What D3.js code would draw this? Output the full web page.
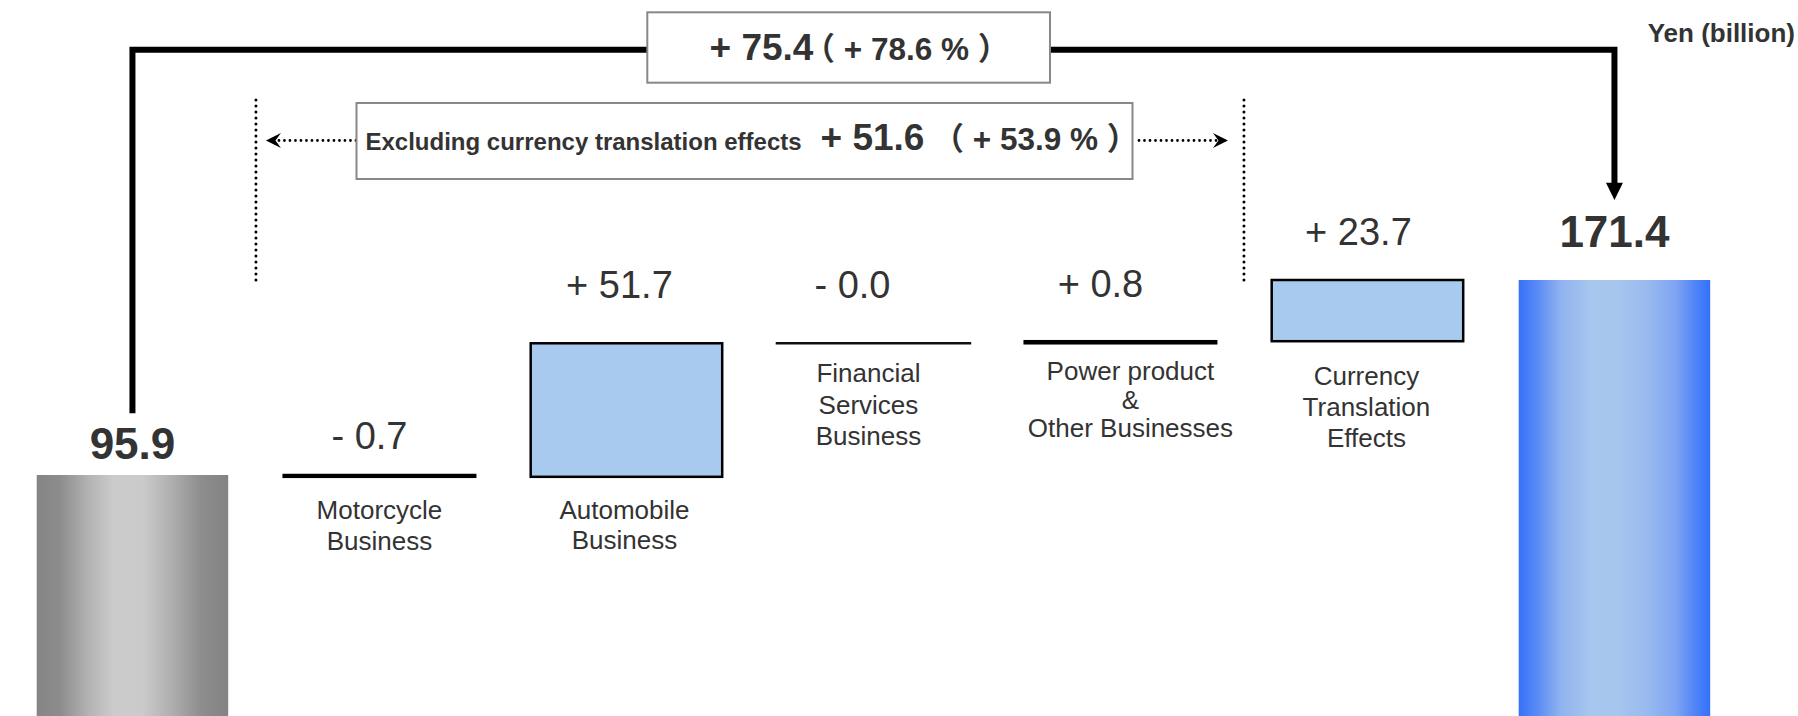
<!DOCTYPE html>
<html>
<head>
<meta charset="utf-8">
<script src="https://cdn.jsdelivr.net/npm/d3@7"></script>
<style>
  html, body { margin: 0; padding: 0; background: #fff; }
  svg { display: block; }
  text { font-family: "Liberation Sans", Arial, "Noto Sans CJK JP", sans-serif; fill: #333; }
</style>
</head>
<body>
<svg id="chart" width="1798" height="716"></svg>
<script>
// ---------------- data ----------------
const steps = ["start", "motorcycle", "automobile", "financial", "power", "currency", "end"];
const categoryLines = [
  [],
  ["Motorcycle", "Business"],
  ["Automobile", "Business"],
  ["Financial", "Services", "Business"],
  ["Power product", "&", "Other Businesses"],
  ["Currency", "Translation", "Effects"],
  []
];
const startValue = 95.9;
const endValue = 171.4;
const deltas = [-0.7, 51.7, -0.0, 0.8, 23.7];
const deltaLabels = ["- 0.7", "+ 51.7", "- 0.0", "+ 0.8", "+ 23.7"];
const totalLabels = ["95.9", "171.4"];
const totalChangeLabel = "+ 75.4";
const totalChangePct = "（ + 78.6 % ）";
const exCurrencyText = "Excluding currency translation effects";
const exCurrencyLabel = "+ 51.6";
const exCurrencyPct = "（ + 53.9 % ）";
const unitLabel = "Yen (billion)";

// ---------------- layout (not data) ----------------
const W = 1798, H = 716;
const deltaLabelDx = [-10, -7, -21, -20, -9];
const deltaLabelGap = [25.7, 45, 45, 44, 35];
const catLabelDx = [0, 0, -2, -5, 10, -1, 0];
const catLabelGap = [0, 42.5, 42.6, 38.7, 36.7, 43.8, 0];
const catLineH = [0, 30.5, 29.5, 31.7, 28.7, 31, 0];
const totalGap = [15.7, 33.3];

const svg = d3.select("#chart");
const defs = svg.append("defs");

const gray = defs.append("linearGradient").attr("id", "gGray").attr("x1", "0").attr("x2", "1").attr("y1", "0").attr("y2", "0");
[[0, "#858585"], [0.12, "#8c8c8c"], [0.27, "#b3b3b3"], [0.4, "#cbcbcb"], [0.55, "#cbcbcb"], [0.7, "#b0b0b0"], [0.86, "#8d8d8d"], [1, "#838383"]]
  .forEach(([o, c]) => gray.append("stop").attr("offset", o).attr("stop-color", c));
const blue = defs.append("linearGradient").attr("id", "gBlue").attr("x1", "0").attr("x2", "1").attr("y1", "0").attr("y2", "0");
[[0, "#3672f8"], [0.1, "#5a8bf5"], [0.22, "#90b3ef"], [0.38, "#a7c7ee"], [0.52, "#a6c6ef"], [0.68, "#97b9ef"], [0.82, "#7ea4f2"], [0.93, "#4c82f8"], [1, "#3371fb"]]
  .forEach(([o, c]) => blue.append("stop").attr("offset", o).attr("stop-color", c));

// ---------------- scales ----------------
const x = d3.scaleBand().domain(steps).range([36.7, 1710.2]).paddingInner(0.2247).paddingOuter(0);
const y = d3.scaleLinear().domain([0, endValue]).range([722.7, 280]);

// waterfall records
let cum = startValue;
const recs = [{ key: steps[0], lo: 0, hi: startValue, type: "start" }];
deltas.forEach((d, i) => {
  const a = cum, b = cum + d;
  recs.push({ key: steps[i + 1], lo: Math.min(a, b), hi: Math.max(a, b), type: "delta", i });
  cum = b;
});
recs.push({ key: steps[6], lo: 0, hi: endValue, type: "end" });

// ---------------- bracket ----------------
const cxStart = x(steps[0]) + x.bandwidth() / 2;
const cxEnd = x(steps[6]) + x.bandwidth() / 2;
const bracketY = 49.7;
svg.append("path")
  .attr("d", `M${cxStart},${413.3} V${bracketY} H${cxEnd} V${186}`)
  .attr("fill", "none").attr("stroke", "#000").attr("stroke-width", 6).attr("stroke-linejoin", "miter");
svg.append("path")
  .attr("d", `M${cxEnd - 8.5},${182.7} L${cxEnd + 8.5},${182.7} L${cxEnd},${200} Z`)
  .attr("fill", "#000");

// top box
svg.append("rect").attr("x", 647.3).attr("y", 12.3).attr("width", 402.7).attr("height", 70.4)
  .attr("fill", "#fff").attr("stroke", "#888").attr("stroke-width", 2);
const t1 = svg.append("text").attr("y", 60).attr("font-weight", "bold");
t1.append("tspan").attr("x", 709.5).attr("font-size", 37).text(totalChangeLabel);
t1.append("tspan").attr("x", 803.5).attr("font-size", 31.5).text(totalChangePct);

// dotted separators
const sepL = x(steps[0]) + x.bandwidth() + (x.step() - x.bandwidth()) / 2;
const sepR = x(steps[5]) - (x.step() - x.bandwidth()) / 2;
[sepL, sepR].forEach(sx => {
  svg.append("line").attr("x1", sx).attr("x2", sx).attr("y1", 100).attr("y2", 282)
    .attr("stroke", "#000").attr("stroke-width", 3).attr("stroke-linecap", "round").attr("stroke-dasharray", "0,6");
});

// lower box + dotted arrows
const arrowY = 140.5;
svg.append("line").attr("x1", sepL + 23).attr("x2", 356).attr("y1", arrowY).attr("y2", arrowY)
  .attr("stroke", "#000").attr("stroke-width", 2.8).attr("stroke-linecap", "round").attr("stroke-dasharray", "0,5.5");
svg.append("line").attr("x1", 1139).attr("x2", sepR - 27).attr("y1", arrowY).attr("y2", arrowY)
  .attr("stroke", "#000").attr("stroke-width", 2.8).attr("stroke-linecap", "round").attr("stroke-dasharray", "0,5.5");
const head = (tx, dir) => `M${tx},${arrowY} L${tx + dir * 15},${arrowY - 7.5} L${tx + dir * 9.5},${arrowY} L${tx + dir * 15},${arrowY + 7.5} Z`;
svg.append("path").attr("d", head(sepL + 10, 1)).attr("fill", "#000");
svg.append("path").attr("d", head(sepR - 16, -1)).attr("fill", "#000");

svg.append("rect").attr("x", 356.5).attr("y", 103).attr("width", 776).attr("height", 76)
  .attr("fill", "#fff").attr("stroke", "#888").attr("stroke-width", 2);
const t2 = svg.append("text").attr("y", 150).attr("font-weight", "bold");
t2.append("tspan").attr("x", 365.5).attr("font-size", 24).text(exCurrencyText);
t2.append("tspan").attr("x", 820.5).attr("font-size", 37).text(exCurrencyLabel);
t2.append("tspan").attr("x", 932.5).attr("font-size", 31.5).text(exCurrencyPct);

// unit label
svg.append("text").attr("x", 1795).attr("y", 42).attr("text-anchor", "end")
  .attr("font-weight", "bold").attr("font-size", 26).text(unitLabel);

// ---------------- bars ----------------
recs.forEach(r => {
  const bx = x(r.key), bw = x.bandwidth();
  if (r.type === "start" || r.type === "end") {
    svg.append("rect").attr("x", bx).attr("y", y(r.hi)).attr("width", bw).attr("height", H + 20 - y(r.hi))
      .attr("fill", r.type === "start" ? "url(#gGray)" : "url(#gBlue)");
  } else {
    const hgt = y(r.lo) - y(r.hi);
    if (hgt < 0.5) {
      svg.append("line").attr("x1", bx - 2).attr("x2", bx + bw + 2).attr("y1", y(r.hi)).attr("y2", y(r.hi))
        .attr("stroke", "#111").attr("stroke-width", 2.4);
    } else {
      svg.append("rect").attr("x", bx).attr("y", y(r.hi)).attr("width", bw).attr("height", hgt)
        .attr("fill", "#a8caef").attr("stroke", "#000").attr("stroke-width", 2.5);
    }
  }
});

// totals labels
[recs[0], recs[6]].forEach((r, k) => {
  svg.append("text").attr("x", x(r.key) + x.bandwidth() / 2).attr("y", y(r.hi) - totalGap[k])
    .attr("text-anchor", "middle").attr("font-weight", "bold").attr("font-size", 44).text(totalLabels[k]);
});

// delta labels
recs.filter(r => r.type === "delta").forEach(r => {
  svg.append("text").attr("x", x(r.key) + x.bandwidth() / 2 + deltaLabelDx[r.i])
    .attr("y", y(r.hi) - deltaLabelGap[r.i])
    .attr("text-anchor", "middle").attr("font-size", 38).text(deltaLabels[r.i]);
});

// category labels
recs.forEach((r, idx) => {
  const lines = categoryLines[idx];
  if (!lines.length) return;
  const t = svg.append("text").attr("text-anchor", "middle").attr("font-size", 26);
  lines.forEach((ln, j) => {
    t.append("tspan").attr("x", x(r.key) + x.bandwidth() / 2 + catLabelDx[idx])
      .attr("y", y(r.lo) + catLabelGap[idx] + j * catLineH[idx]).text(ln);
  });
});
</script>
</body>
</html>
